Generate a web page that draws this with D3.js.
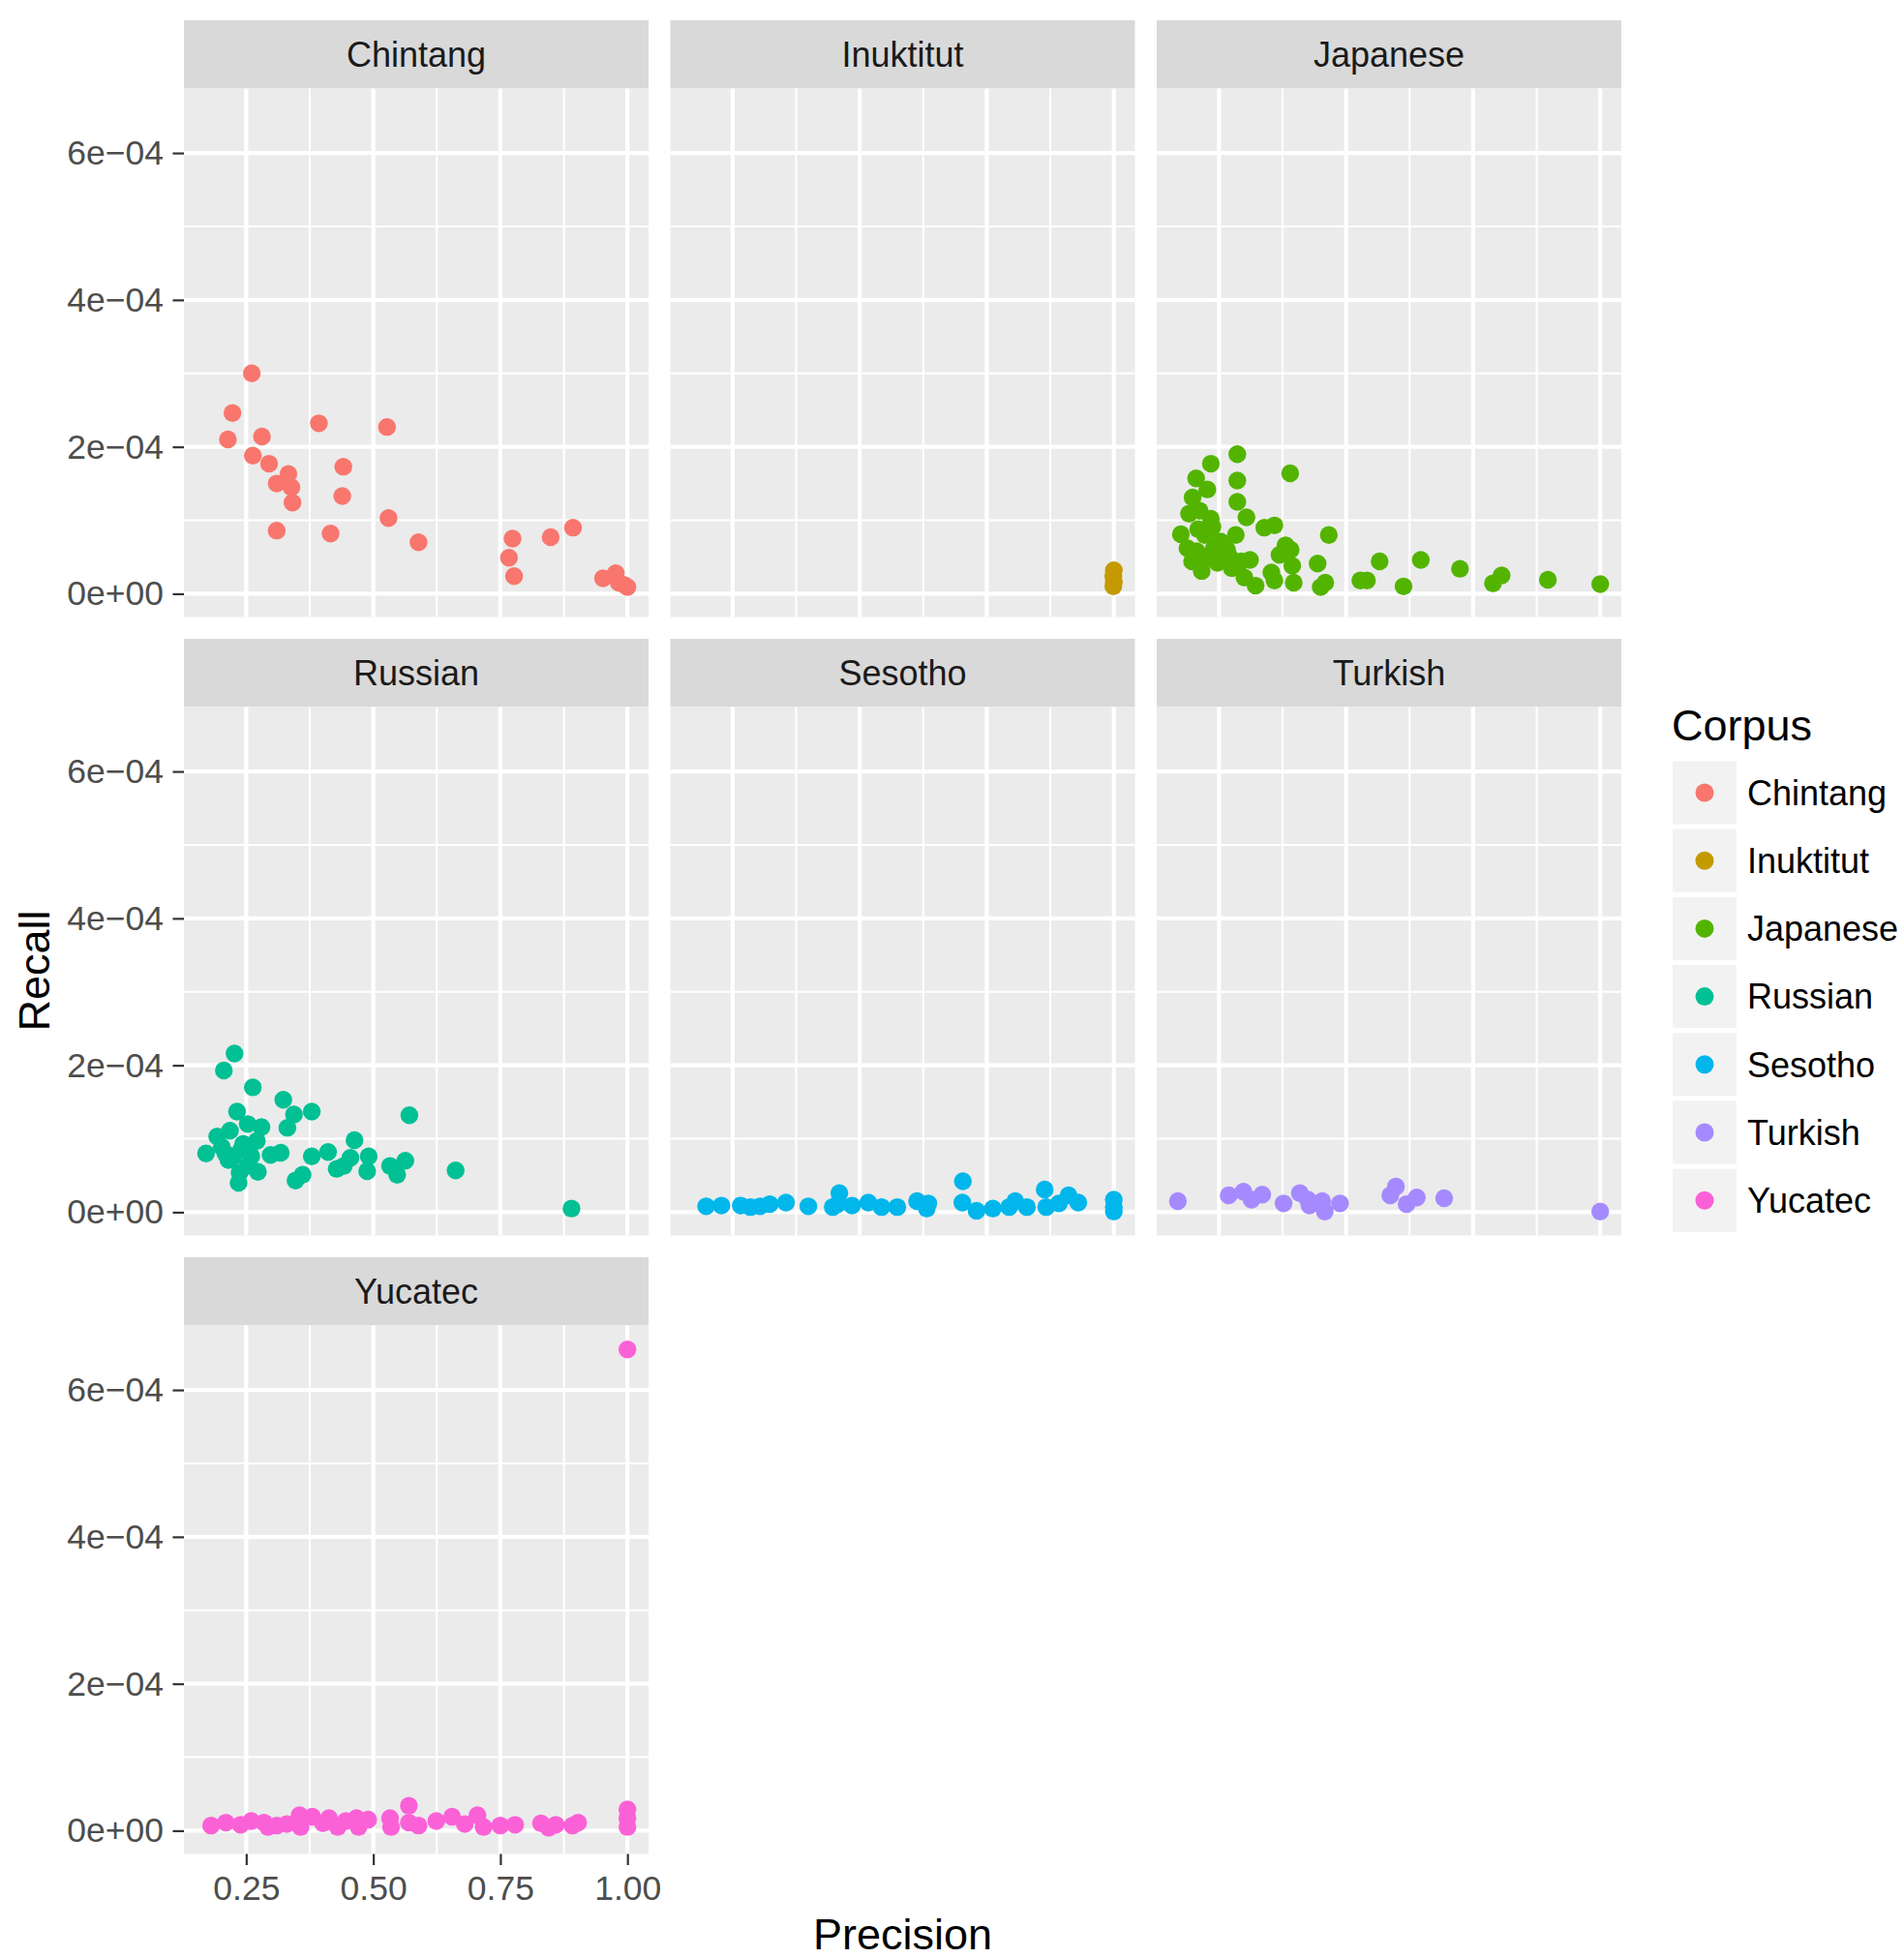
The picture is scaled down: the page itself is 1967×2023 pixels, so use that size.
<!DOCTYPE html>
<html>
<head>
<meta charset="utf-8">
<script src="https://cdn.jsdelivr.net/npm/d3@7"></script>
<style>
  body { margin: 0; background: #ffffff; }
  svg { display: block; }
  text { font-family: "Liberation Sans", Arial, Helvetica, sans-serif; }
</style>
</head>
<body>
<svg id="chart" width="1967" height="2023"></svg>
<script>
// Facet order and colours (ggplot hue palette)
const corpora = ["Chintang", "Inuktitut", "Japanese", "Russian", "Sesotho", "Turkish", "Yucatec"];
const corpusColors = ["#F8766D", "#C49A00", "#53B400", "#00C094", "#00B6EB", "#A58AFF", "#FB61D7"];

// Axis breaks and labels
const xTicks = [0.25, 0.50, 0.75, 1.00];
const xTickLabels = ["0.25", "0.50", "0.75", "1.00"];
const yTicks = [0, 2e-4, 4e-4, 6e-4];
const yTickLabels = ["0e+00", "2e\u221204", "4e\u221204", "6e\u221204"];

// [precision, recall] per corpus
const chintang = [
  [0.261, 3.00e-4], [0.223, 2.46e-4], [0.214, 2.10e-4], [0.281, 2.14e-4], [0.263, 1.88e-4],
  [0.295, 1.77e-4], [0.333, 1.63e-4], [0.310, 1.50e-4], [0.339, 1.45e-4], [0.341, 1.24e-4],
  [0.310, 0.86e-4], [0.393, 2.32e-4], [0.441, 1.73e-4], [0.439, 1.33e-4], [0.416, 0.82e-4],
  [0.527, 2.27e-4], [0.530, 1.03e-4], [0.589, 0.70e-4], [0.774, 0.75e-4], [0.767, 0.49e-4],
  [0.777, 0.24e-4], [0.849, 0.77e-4], [0.893, 0.90e-4], [0.952, 0.21e-4], [0.977, 0.28e-4],
  [0.983, 0.15e-4], [0.994, 0.12e-4], [1.000, 0.09e-4]
];
const inuktitut = [
  [1.000, 0.32e-4], [0.999, 0.24e-4], [1.000, 0.16e-4], [0.999, 0.10e-4]
];
const japanese = [
  [0.286, 1.90e-4], [0.234, 1.77e-4], [0.390, 1.64e-4], [0.205, 1.57e-4], [0.286, 1.54e-4],
  [0.227, 1.42e-4], [0.198, 1.31e-4], [0.286, 1.25e-4], [0.191, 1.09e-4], [0.212, 1.13e-4],
  [0.234, 1.02e-4], [0.304, 1.04e-4], [0.339, 0.90e-4], [0.359, 0.93e-4], [0.175, 0.81e-4],
  [0.237, 0.91e-4], [0.222, 0.80e-4], [0.283, 0.80e-4], [0.253, 0.71e-4], [0.466, 0.80e-4],
  [0.381, 0.66e-4], [0.391, 0.60e-4], [0.369, 0.53e-4], [0.188, 0.62e-4], [0.206, 0.58e-4],
  [0.197, 0.44e-4], [0.216, 0.31e-4], [0.228, 0.49e-4], [0.247, 0.42e-4], [0.272, 0.49e-4],
  [0.275, 0.35e-4], [0.294, 0.44e-4], [0.311, 0.46e-4], [0.300, 0.22e-4], [0.322, 0.11e-4],
  [0.353, 0.29e-4], [0.359, 0.18e-4], [0.394, 0.38e-4], [0.397, 0.15e-4], [0.444, 0.41e-4],
  [0.459, 0.15e-4], [0.450, 0.09e-4], [0.528, 0.18e-4], [0.541, 0.18e-4], [0.566, 0.44e-4],
  [0.613, 0.10e-4], [0.209, 0.88e-4], [0.240, 0.62e-4], [0.266, 0.60e-4],
  [0.647, 0.46e-4], [0.724, 0.34e-4], [0.789, 0.14e-4], [0.806, 0.25e-4], [0.897, 0.19e-4],
  [1.000, 0.13e-4]
];
const russian = [
  [0.227, 2.16e-4], [0.206, 1.93e-4], [0.263, 1.70e-4], [0.323, 1.53e-4], [0.344, 1.33e-4],
  [0.379, 1.37e-4], [0.331, 1.15e-4], [0.232, 1.37e-4], [0.571, 1.32e-4], [0.253, 1.20e-4],
  [0.280, 1.16e-4], [0.193, 1.03e-4], [0.218, 1.11e-4], [0.271, 0.97e-4], [0.171, 0.80e-4],
  [0.202, 0.89e-4], [0.225, 0.76e-4], [0.240, 0.85e-4], [0.215, 0.71e-4], [0.260, 0.76e-4],
  [0.298, 0.78e-4], [0.318, 0.81e-4], [0.237, 0.54e-4], [0.235, 0.40e-4], [0.273, 0.55e-4],
  [0.379, 0.76e-4], [0.411, 0.82e-4], [0.347, 0.43e-4], [0.361, 0.51e-4], [0.463, 0.98e-4],
  [0.455, 0.74e-4], [0.428, 0.59e-4], [0.442, 0.63e-4], [0.491, 0.76e-4], [0.488, 0.56e-4],
  [0.533, 0.63e-4], [0.563, 0.70e-4], [0.547, 0.51e-4], [0.209, 0.80e-4], [0.244, 0.93e-4],
  [0.253, 0.63e-4], [0.662, 0.57e-4], [0.890, 0.05e-4]
];
const sesotho = [
  [0.198, 0.08e-4], [0.228, 0.09e-4], [0.266, 0.09e-4], [0.285, 0.07e-4], [0.304, 0.08e-4],
  [0.323, 0.11e-4], [0.355, 0.13e-4], [0.399, 0.08e-4], [0.447, 0.07e-4], [0.460, 0.26e-4],
  [0.457, 0.11e-4], [0.485, 0.09e-4], [0.517, 0.13e-4], [0.543, 0.07e-4], [0.574, 0.07e-4],
  [0.613, 0.15e-4], [0.632, 0.05e-4], [0.635, 0.12e-4], [0.703, 0.42e-4], [0.702, 0.13e-4],
  [0.730, 0.02e-4], [0.762, 0.05e-4], [0.794, 0.07e-4], [0.806, 0.15e-4], [0.829, 0.07e-4],
  [0.864, 0.31e-4], [0.867, 0.07e-4], [0.892, 0.12e-4], [0.911, 0.23e-4], [0.930, 0.13e-4],
  [1.000, 0.17e-4], [1.000, 0.07e-4], [1.000, 0.01e-4]
];
const turkish = [
  [0.169, 0.15e-4], [0.269, 0.23e-4], [0.298, 0.28e-4], [0.314, 0.17e-4], [0.335, 0.24e-4],
  [0.377, 0.12e-4], [0.409, 0.26e-4], [0.425, 0.17e-4], [0.428, 0.09e-4], [0.453, 0.15e-4],
  [0.458, 0.01e-4], [0.488, 0.12e-4], [0.587, 0.23e-4], [0.598, 0.35e-4], [0.619, 0.11e-4],
  [0.639, 0.20e-4], [0.693, 0.19e-4], [1.000, 0.01e-4]
];
const yucatec = [
  [1.000, 6.55e-4], [0.181, 0.07e-4], [0.210, 0.11e-4], [0.239, 0.08e-4], [0.260, 0.13e-4],
  [0.285, 0.11e-4], [0.293, 0.05e-4], [0.310, 0.07e-4], [0.330, 0.09e-4], [0.355, 0.21e-4],
  [0.357, 0.05e-4], [0.380, 0.19e-4], [0.401, 0.10e-4], [0.413, 0.17e-4], [0.430, 0.05e-4],
  [0.446, 0.13e-4], [0.467, 0.17e-4], [0.471, 0.05e-4], [0.490, 0.15e-4], [0.533, 0.17e-4],
  [0.535, 0.05e-4], [0.570, 0.34e-4], [0.570, 0.11e-4], [0.589, 0.07e-4], [0.624, 0.13e-4],
  [0.655, 0.19e-4], [0.680, 0.09e-4], [0.705, 0.21e-4], [0.717, 0.05e-4], [0.750, 0.07e-4],
  [0.779, 0.08e-4], [0.830, 0.10e-4], [0.845, 0.04e-4], [0.859, 0.08e-4], [0.892, 0.07e-4],
  [0.903, 0.11e-4], [1.000, 0.29e-4], [1.000, 0.17e-4], [1.000, 0.05e-4]
];

const seriesByCorpus = [chintang, inuktitut, japanese, russian, sesotho, turkish, yucatec];

// ---- layout ----
const colLeft = [190, 692.5, 1195];
const rowTop = [21, 660, 1299];
const panelW = 480, stripH = 70.5, plotH = 546;
const tickLen = 11.5;
const fsTick = 35.5, fsStrip = 36, fsTitle = 45, fsLegend = 36;

const svg = d3.select("#chart");

// shared (fixed) scales with ggplot-style 5% expansion
function expanded(ext) {
  const pad = (ext[1] - ext[0]) * 0.05;
  return [ext[0] - pad, ext[1] + pad];
}
const allPts = seriesByCorpus.flat();
const x = d3.scaleLinear().domain(expanded(d3.extent(allPts, d => d[0]))).range([0, panelW]);
const y = d3.scaleLinear().domain(expanded(d3.extent(allPts, d => d[1]))).range([plotH, 0]);

function minorBreaks(major, domain) {
  const step = major[1] - major[0];
  const out = [];
  for (let v = major[0] - step / 2; v <= major[major.length - 1] + step / 2 + 1e-12; v += step) {
    if (v >= domain[0] && v <= domain[1]) out.push(v);
  }
  return out;
}
const xMinor = minorBreaks(xTicks, x.domain());
const yMinor = minorBreaks(yTicks, y.domain());

corpora.forEach((name, i) => {
  const col = i % 3, row = Math.floor(i / 3);
  const g = svg.append("g").attr("transform", `translate(${colLeft[col]},${rowTop[row]})`);

  // strip
  g.append("rect").attr("x", 0).attr("y", 0).attr("width", panelW).attr("height", stripH)
    .attr("fill", "#D9D9D9");
  g.append("text").attr("x", panelW / 2).attr("y", stripH / 2 + fsStrip * 0.355)
    .attr("text-anchor", "middle").attr("font-size", fsStrip).attr("fill", "#1A1A1A")
    .text(name);

  const p = g.append("g").attr("transform", `translate(0,${stripH})`);
  p.append("rect").attr("width", panelW).attr("height", plotH).attr("fill", "#EBEBEB");

  // grid
  p.selectAll(".gxm").data(xMinor).join("line")
    .attr("x1", d => x(d)).attr("x2", d => x(d)).attr("y1", 0).attr("y2", plotH)
    .attr("stroke", "#ffffff").attr("stroke-width", 2.1);
  p.selectAll(".gym").data(yMinor).join("line")
    .attr("y1", d => y(d)).attr("y2", d => y(d)).attr("x1", 0).attr("x2", panelW)
    .attr("stroke", "#ffffff").attr("stroke-width", 2.1);
  p.selectAll(".gx").data(xTicks).join("line")
    .attr("x1", d => x(d)).attr("x2", d => x(d)).attr("y1", 0).attr("y2", plotH)
    .attr("stroke", "#ffffff").attr("stroke-width", 4.2);
  p.selectAll(".gy").data(yTicks).join("line")
    .attr("y1", d => y(d)).attr("y2", d => y(d)).attr("x1", 0).attr("x2", panelW)
    .attr("stroke", "#ffffff").attr("stroke-width", 4.2);

  // points
  p.append("g").selectAll("circle").data(seriesByCorpus[i]).join("circle")
    .attr("cx", d => x(d[0])).attr("cy", d => y(d[1])).attr("r", 9.2)
    .attr("fill", corpusColors[i]);

  // y axis on first column
  if (col === 0) {
    const ax = p.append("g").call(
      d3.axisLeft(y).tickValues(yTicks).tickFormat((d, k) => yTickLabels[k])
        .tickSize(tickLen).tickPadding(9.5));
    ax.select(".domain").remove();
    ax.selectAll("line").attr("stroke", "#333333").attr("stroke-width", 2.2);
    ax.selectAll("text").attr("font-size", fsTick).attr("fill", "#4D4D4D")
      .attr("font-family", "Liberation Sans, Arial, sans-serif");
  }
  // x axis under the bottom panel
  if (row === 2) {
    const ax = p.append("g").attr("transform", `translate(0,${plotH})`).call(
      d3.axisBottom(x).tickValues(xTicks).tickFormat((d, k) => xTickLabels[k])
        .tickSize(tickLen).tickPadding(10.8));
    ax.select(".domain").remove();
    ax.selectAll("line").attr("stroke", "#333333").attr("stroke-width", 2.2);
    ax.selectAll("text").attr("font-size", fsTick).attr("fill", "#4D4D4D")
      .attr("font-family", "Liberation Sans, Arial, sans-serif");
  }
});

// axis titles
svg.append("text").attr("x", (colLeft[0] + colLeft[2] + panelW) / 2).attr("y", 2014)
  .attr("text-anchor", "middle").attr("font-size", fsTitle).attr("fill", "#000000")
  .text("Precision");
svg.append("text").attr("transform", "translate(51,1003) rotate(-90)")
  .attr("text-anchor", "middle").attr("font-size", fsTitle).attr("fill", "#000000")
  .text("Recall");

// legend
const legend = svg.append("g").attr("transform", "translate(1727,0)");
legend.append("text").attr("x", 0).attr("y", 765).attr("font-size", fsTitle)
  .attr("fill", "#000000").text("Corpus");
const keyTop = 786.5, keyPitch = 70.2, keyW = 66, keyH = 65;
const keys = legend.selectAll(".key").data(corpora).join("g")
  .attr("transform", (d, k) => `translate(0,${keyTop + k * keyPitch})`);
keys.append("rect").attr("x", 1).attr("y", 0).attr("width", keyW).attr("height", keyH)
  .attr("fill", "#F2F2F2");
keys.append("circle").attr("cx", 1 + keyW / 2).attr("cy", keyH / 2).attr("r", 9.5)
  .attr("fill", (d, k) => corpusColors[k]);
keys.append("text").attr("x", 78).attr("y", keyH / 2 + 12.8).attr("font-size", fsLegend)
  .attr("fill", "#000000").text(d => d);
</script>
</body>
</html>
